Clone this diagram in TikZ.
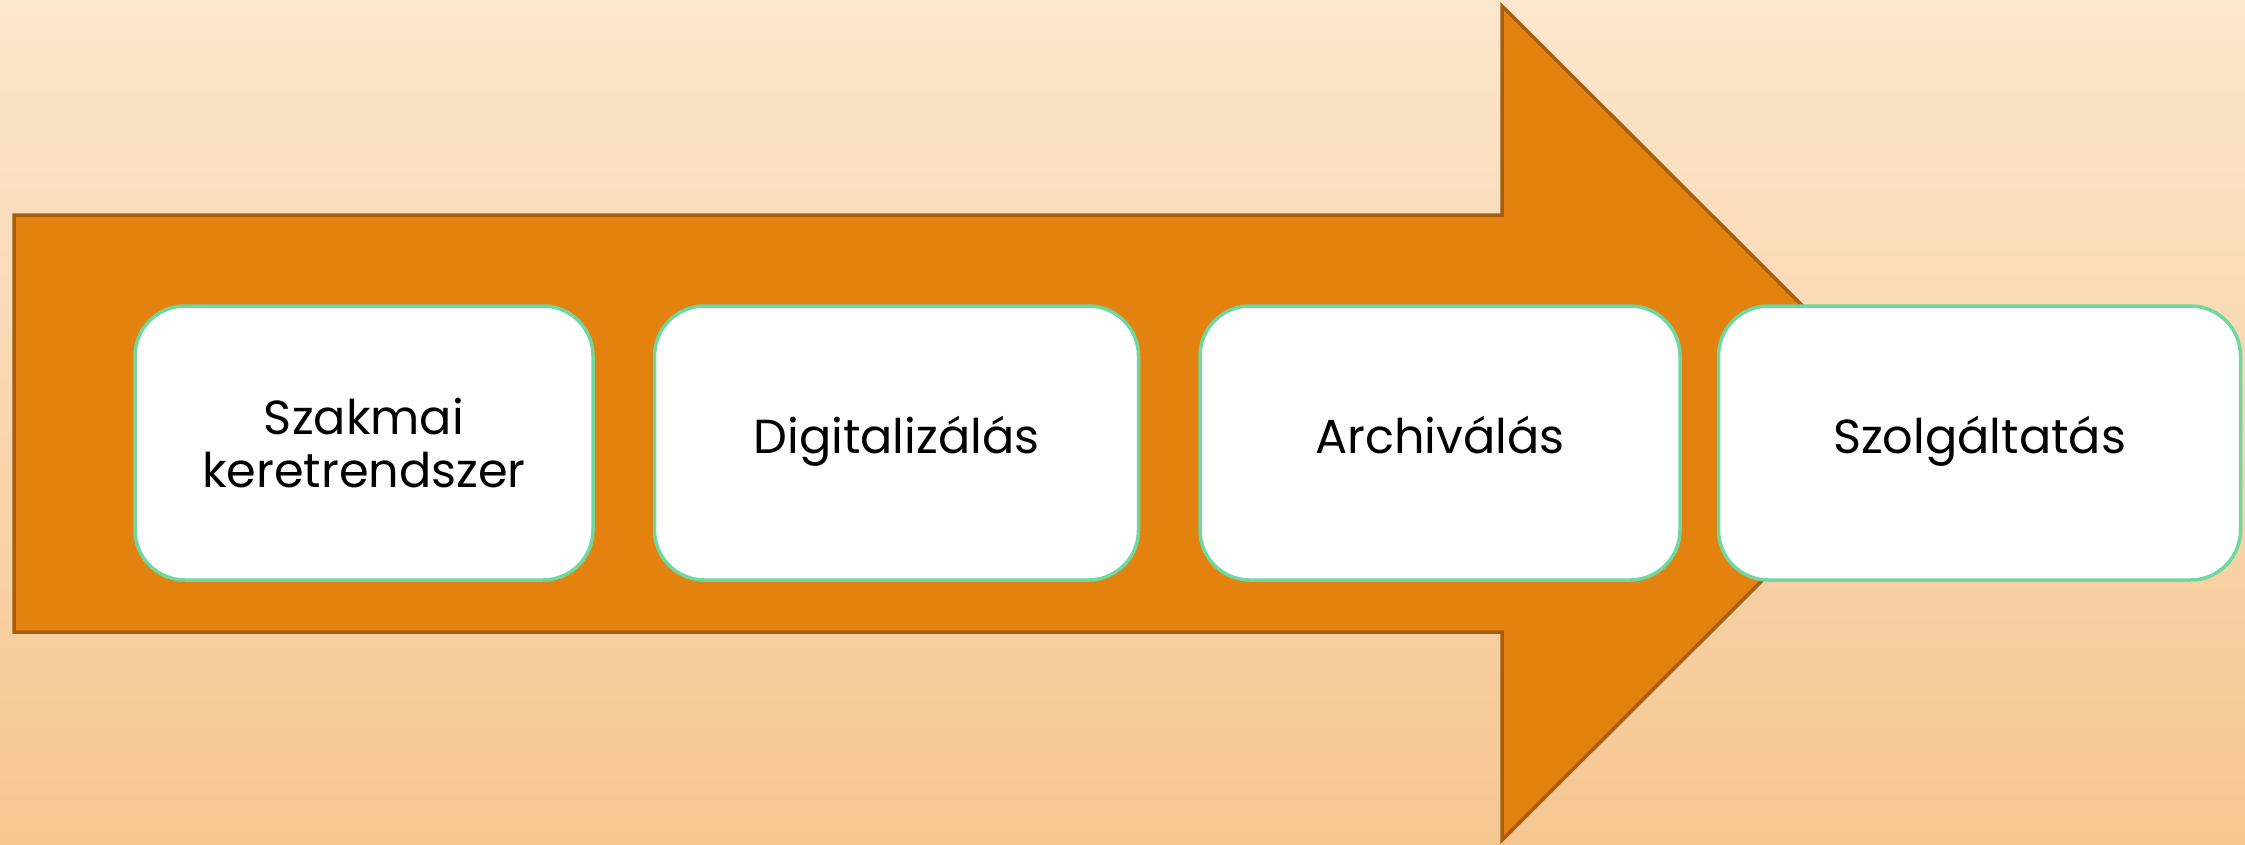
\documentclass[tikz,border=0pt]{standalone}
\usepackage{fontspec}
\setmainfont{Poppins}
\usepackage{tikz}
\usetikzlibrary{positioning}

\definecolor{bgTop}{HTML}{FCE6CD}
\definecolor{bgBottom}{HTML}{F5C690}
\definecolor{arrowFill}{HTML}{E3820F}
\definecolor{arrowEdge}{HTML}{A65E0E}
\definecolor{boxEdge}{HTML}{6FD8A0}

\begin{document}
\begin{tikzpicture}[
        x=0.1mm, y=-0.1mm,
        stage/.style={
            % The shape
            rectangle,
            rounded corners = 5mm,
            minimum height = 27.4mm,
            inner sep = 0pt,
            % The border
            line width = 0.35mm,
            draw = boxEdge,
            % The color
            fill = white,
            text = black,
            % Font
            font = \fontsize{13.6}{16.2}\selectfont,
            align = center
        },
        oneline/.style={
            text height = 0.6em,
            text depth = 0pt
        },
    ]
        \useasboundingbox (0,0) rectangle (2245,844);
        \shade[top color=bgTop, bottom color=bgBottom] (0,0) rectangle (2245,844);

        % the big arrow
        \draw[fill=arrowFill, draw=arrowEdge, line width=0.35mm]
            (14,215) -- (1502,215) -- (1502,6) -- (1920,423)
            -- (1502,840) -- (1502,632) -- (14,632) -- cycle;

        \node (frame) [stage,minimum width=45.8mm] at (364,443) {\raisebox{-4pt}{\shortstack{Szakmai\\[2pt]keretrendszer}}};
        \node (digital) [stage,oneline,minimum width=48.4mm,right=5.8mm of frame] {Digitalizálás};
        \node (archive) [stage,oneline,minimum width=48mm,right=5.8mm of digital] {Archiválás};
        \node (service) [stage,oneline,minimum width=52.2mm,right=3.5mm of archive] {Szolgáltatás};

    \end{tikzpicture}
\end{document}
